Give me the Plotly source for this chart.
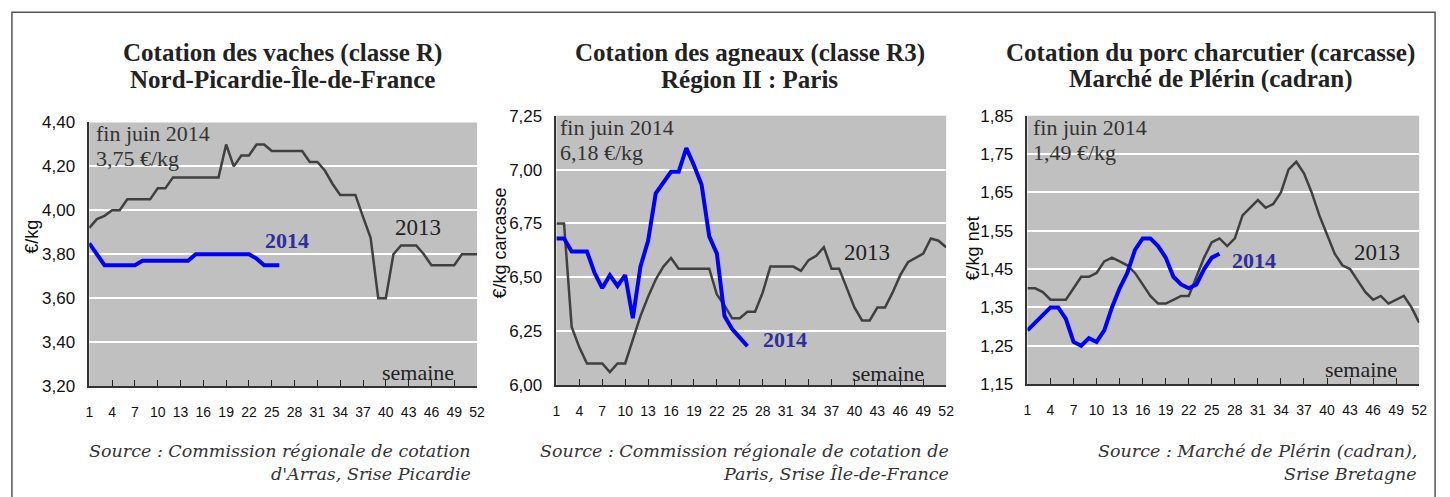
import plotly.graph_objects as go

W, H = 1450, 497

weeks = list(range(1, 53))
weeks_2014 = list(range(1, 27))
week_ticks = list(range(1, 53, 3))
week_labels = [str(w) for w in week_ticks]

vaches_2013 = [3.92, 3.96, 3.975, 4.00, 4.00, 4.05, 4.05, 4.05, 4.05, 4.10, 4.10,
               4.15, 4.15, 4.15, 4.15, 4.15, 4.15, 4.15,
               4.30, 4.20, 4.25, 4.25, 4.30, 4.30,
               4.27, 4.27, 4.27, 4.27, 4.27,
               4.22, 4.22, 4.18, 4.12,
               4.07, 4.07, 4.07,
               3.97, 3.875, 3.60, 3.60,
               3.80, 3.84, 3.84, 3.84, 3.80,
               3.75, 3.75, 3.75, 3.75, 3.80, 3.80, 3.80]
vaches_2014 = [3.85, 3.80, 3.75, 3.75, 3.75, 3.75, 3.75,
               3.77, 3.77, 3.77, 3.77, 3.77, 3.77, 3.77,
               3.80, 3.80, 3.80, 3.80, 3.80, 3.80, 3.80, 3.80,
               3.78, 3.75, 3.75, 3.75]

agneaux_2013 = [6.75, 6.75, 6.27, 6.175, 6.10, 6.10, 6.10, 6.06, 6.10, 6.10,
                6.21, 6.32, 6.41, 6.49, 6.55, 6.59,
                6.54, 6.54, 6.54, 6.54, 6.54,
                6.42, 6.37, 6.31, 6.31, 6.34, 6.34, 6.43,
                6.55, 6.55, 6.55, 6.55,
                6.53, 6.58, 6.60, 6.64, 6.54, 6.54, 6.45, 6.36, 6.30, 6.30,
                6.36, 6.36, 6.43, 6.51, 6.57, 6.59, 6.61, 6.68, 6.67, 6.64]
agneaux_2014 = [6.68, 6.68, 6.62, 6.62, 6.62, 6.52, 6.45, 6.51, 6.46, 6.51,
                6.31, 6.55, 6.67, 6.89, 6.94, 6.99, 6.99, 7.10, 7.02, 6.93,
                6.69, 6.61, 6.32, 6.26, 6.22, 6.18]

porc_2013 = [1.40, 1.40, 1.39, 1.37, 1.37, 1.37, 1.40, 1.43, 1.43, 1.44,
             1.47, 1.48, 1.47, 1.46, 1.44, 1.41, 1.38, 1.36, 1.36, 1.37, 1.38, 1.38,
             1.43, 1.48, 1.52, 1.53, 1.51, 1.53, 1.59, 1.61, 1.63, 1.61,
             1.62, 1.65, 1.71, 1.73, 1.70, 1.65, 1.59, 1.54, 1.49, 1.46,
             1.45, 1.42, 1.39, 1.37, 1.38, 1.36, 1.37, 1.38, 1.35, 1.31]
porc_2014 = [1.29, 1.31, 1.33, 1.35, 1.35, 1.32, 1.26, 1.25, 1.27, 1.26,
             1.29, 1.35, 1.40, 1.44, 1.50, 1.53, 1.53, 1.51, 1.48, 1.43,
             1.41, 1.40, 1.41, 1.45, 1.48, 1.49]

vaches_ticks = [3.20, 3.40, 3.60, 3.80, 4.00, 4.20, 4.40]
agneaux_ticks = [6.00, 6.25, 6.50, 6.75, 7.00, 7.25]
porc_ticks = [1.15, 1.25, 1.35, 1.45, 1.55, 1.65, 1.75, 1.85]

titles = [("Cotation des vaches (classe R)", "Nord-Picardie-Île-de-France"),
          ("Cotation des agneaux (classe R3)", "Région II : Paris"),
          ("Cotation du porc charcutier (carcasse)", "Marché de Plérin (cadran)")]
ytitles = ["€/kg", "€/kg carcasse", "€/kg net"]
fin_juin = ["3,75 €/kg", "6,18 €/kg", "1,49 €/kg"]
sources = [("Source : Commission régionale de cotation", "d'Arras, Srise Picardie"),
           ("Source : Commission régionale de cotation de", "Paris, Srise Île-de-France"),
           ("Source : Marché de Plérin (cadran),", "Srise Bretagne")]


def px(x):
    return x / W


def py(y):
    return 1 - y / H


# plot-area pixel boxes: left, right, top, bottom
boxes = [(86, 477, 118, 392), (557, 950, 111, 391), (1032, 1427, 111, 390)]

panels = [
    (vaches_2013, vaches_2014, vaches_ticks),
    (agneaux_2013, agneaux_2014, agneaux_ticks),
    (porc_2013, porc_2014, porc_ticks),
]

fig = go.Figure()
layout = dict(width=W, height=H, autosize=False,
              margin=dict(l=0, r=0, t=0, b=0),
              paper_bgcolor="white", plot_bgcolor="#c0c0c0",
              showlegend=False)

annotations = []
GRAY = "#404040"
BLUE = "#0000ff"
SERIF = "Liberation Serif"
SANS = "Liberation Sans"

for i, (s13, s14, yt) in enumerate(panels):
    n = "" if i == 0 else str(i + 1)
    xa, ya = "x" + n, "y" + n
    l, r, t, b = boxes[i]
    fig.add_trace(go.Scatter(x=weeks, y=s13, mode="lines", xaxis=xa, yaxis=ya,
                             line=dict(color=GRAY, width=2.5)))
    fig.add_trace(go.Scatter(x=weeks_2014, y=s14, mode="lines", xaxis=xa, yaxis=ya,
                             line=dict(color=BLUE, width=4)))
    layout["xaxis" + n] = dict(domain=[px(l), px(r)], anchor=ya, range=[1, 52],
                               tickvals=week_ticks, ticktext=week_labels,
                               ticks="inside", ticklen=6, tickwidth=1, tickcolor="#222",
                               showline=True, linecolor="#333", linewidth=1.5,
                               showgrid=False, zeroline=False,
                               tickfont=dict(family=SANS, size=14, color="#111"),
                               ticklabelstandoff=12)
    fmt = [f"{v:.2f}".replace(".", ",") for v in yt]
    layout["yaxis" + n] = dict(domain=[py(b), py(t)], anchor=xa, range=[yt[0], yt[-1]],
                               tickvals=yt, ticktext=fmt, ticks="",
                               showline=True, linecolor="#333", linewidth=1.5,
                               showgrid=True, gridcolor="white", gridwidth=2,
                               zeroline=False,
                               tickfont=dict(family=SANS, size=17, color="#111"),
                               ticklabelstandoff=9)

# titles (two separate lines)
title_cx = [281, 752, 1217]
for cx, (t1, t2) in zip(title_cx, titles):
    for txt, yy in ((t1, 46), (t2, 73)):
        annotations.append(dict(x=px(cx), y=py(yy), xref="paper", yref="paper",
                                text="<b>" + txt + "</b>", showarrow=False,
                                xanchor="center", yanchor="middle",
                                font=dict(family=SERIF, size=25, color="#222")))

# y titles
ytitle_x = [28, 500, 978]
ytitle_y = [237, 243, 249]
for xx, yy, tt in zip(ytitle_x, ytitle_y, ytitles):
    annotations.append(dict(x=px(xx), y=py(yy), xref="paper", yref="paper",
                            text=tt, textangle=-90, showarrow=False,
                            xanchor="center", yanchor="middle",
                            font=dict(family=SANS, size=18, color="#111")))

# fin juin text
fin_pos = [(91, 129, 155), (559, 123, 149), (1036, 123, 149)]
for (xx, y1, y2), fj in zip(fin_pos, fin_juin):
    annotations.append(dict(x=px(xx), y=py(y1), xref="paper", yref="paper",
                            text="fin juin 2014", showarrow=False,
                            xanchor="left", yanchor="middle",
                            font=dict(family=SERIF, size=22, color="#333")))
    annotations.append(dict(x=px(xx), y=py(y2), xref="paper", yref="paper",
                            text=fj, showarrow=False,
                            xanchor="left", yanchor="middle",
                            font=dict(family=SERIF, size=22, color="#333")))

# series labels
lab13 = [(392, 227), (845, 253), (1359, 253)]
lab14 = [(261, 241), (763, 344), (1236, 261)]
sem = [(456, 378), (930, 379), (1407, 375)]
for (x13, y13), (x14, y14), (xs, ys) in zip(lab13, lab14, sem):
    annotations.append(dict(x=px(x13), y=py(y13), xref="paper", yref="paper",
                            text="2013", showarrow=False, xanchor="left", yanchor="middle",
                            font=dict(family=SERIF, size=23, color="#222")))
    annotations.append(dict(x=px(x14), y=py(y14), xref="paper", yref="paper",
                            text="<b>2014</b>", showarrow=False, xanchor="left", yanchor="middle",
                            font=dict(family=SERIF, size=22, color="#2e2e9e")))
    annotations.append(dict(x=px(xs), y=py(ys), xref="paper", yref="paper",
                            text="semaine", showarrow=False, xanchor="right", yanchor="middle",
                            font=dict(family=SERIF, size=22, color="#222")))

# sources
src_right = [473, 955, 1427]
for xr, (s1, s2) in zip(src_right, sources):
    for txt, yy in ((s1, 460), (s2, 484)):
        annotations.append(dict(x=px(xr), y=py(yy), xref="paper", yref="paper",
                                text=txt, showarrow=False, xanchor="right", yanchor="middle",
                                font=dict(family="DejaVu Serif", size=17.5, color="#333",
                                          style="italic")))

layout["annotations"] = annotations
layout["shapes"] = [dict(type="rect", xref="paper", yref="paper",
                         x0=px(8), x1=px(1443), y0=-0.2, y1=py(3.5),
                         line=dict(color="#555", width=1.5), fillcolor="rgba(0,0,0,0)")]

fig.update_layout(**layout)
css = "margin:0;padding:0;overflow:hidden;"
fig.write_html("out.html",
               config={"displayModeBar": False},
               post_script=("document.documentElement.style.cssText='" + css + "';"
                            "document.body.style.cssText='" + css + "';"))
